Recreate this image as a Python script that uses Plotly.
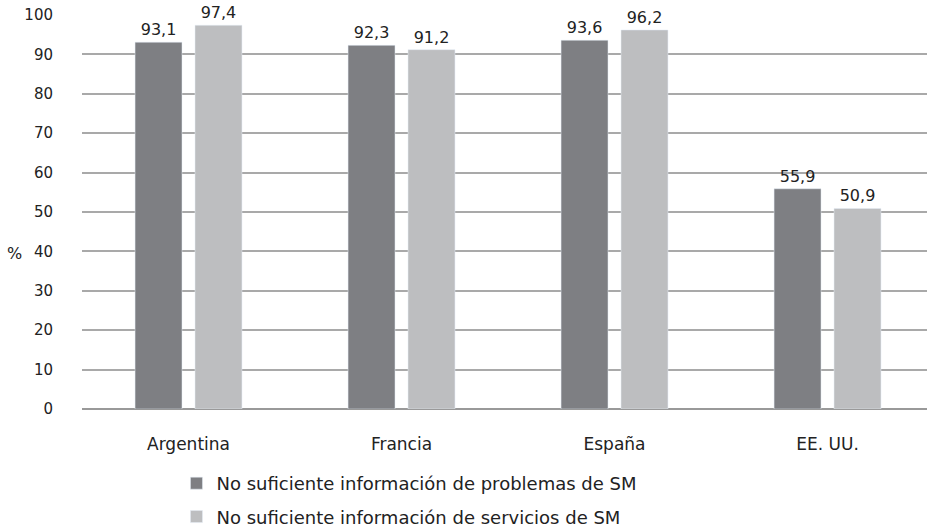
import plotly.graph_objects as go

paises = ["Argentina", "Francia", "España", "EE. UU."]
problemas_sm = [93.1, 92.3, 93.6, 55.9]
servicios_sm = [97.4, 91.2, 96.2, 50.9]
y_ticks = list(range(0, 101, 10))

font = "DejaVu Sans, Verdana, sans-serif"

fig = go.Figure()
fig.add_trace(
    go.Bar(
        x=paises,
        y=problemas_sm,
        name="No suficiente información de problemas de SM",
        marker_color="#7e7f83",
        texttemplate="%{y:.1f}",
        textposition="outside",
        textfont=dict(size=16, color="#222"),
        cliponaxis=False,
        legendgroup="a",
    )
)
fig.add_trace(
    go.Bar(
        x=paises,
        y=servicios_sm,
        name="No suficiente información de servicios de SM",
        marker_color="#bdbec0",
        texttemplate="%{y:.1f}",
        textposition="outside",
        textfont=dict(size=16, color="#222"),
        cliponaxis=False,
        legendgroup="b",
    )
)

fig.update_layout(
    width=927,
    height=527,
    margin=dict(l=82, r=0, t=15, b=118, autoexpand=False),
    paper_bgcolor="white",
    plot_bgcolor="white",
    separators=",.",
    font=dict(family=font, size=16, color="#222"),
    bargap=0.437,
    bargroupgap=0.217,
    legend=dict(
        x=0.1118,
        y=-0.142,
        xanchor="left",
        yanchor="top",
        font=dict(size=18),
        tracegroupgap=7,
        bgcolor="rgba(0,0,0,0)",
    ),
    annotations=[
        dict(
            text="%",
            xref="paper",
            yref="y",
            x=-0.0793,
            y=39.5,
            showarrow=False,
            xanchor="center",
            font=dict(size=16),
        )
    ],
)
fig.update_xaxes(
    range=[-0.5, 3.467],
    showgrid=False,
    showline=False,
    ticks="",
    automargin=False,
    ticklabelstandoff=23,
    tickfont=dict(size=17),
)
fig.update_yaxes(
    range=[0, 100],
    tickvals=y_ticks,
    showgrid=True,
    gridcolor="#a9a9a9",
    gridwidth=1.5,
    zeroline=True,
    zerolinecolor="#999",
    zerolinewidth=2,
    ticks="",
    automargin=False,
    ticklabelstandoff=28,
    tickfont=dict(size=15),
)

# drop the default 8px body margin so the figure sits at the window corner
fig.write_html(
    "out.html",
    config={"displayModeBar": False},
    post_script="document.body.style.margin = '0';",
)
